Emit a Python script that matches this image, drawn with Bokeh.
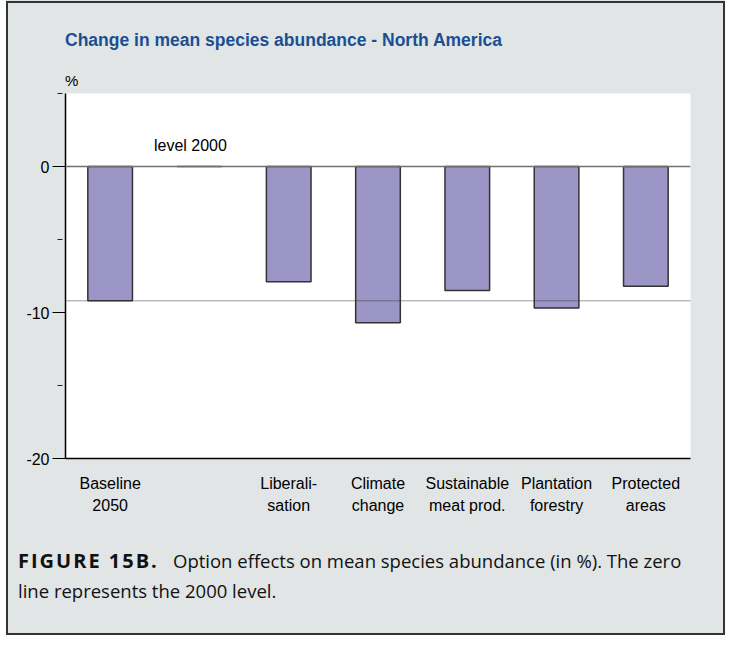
from bokeh.plotting import figure
from bokeh.layouts import column
from bokeh.models import Range1d, FixedTicker, Span, Label, Div
from bokeh.embed import file_html
from bokeh.resources import INLINE

# ---- data ----
categories = ["Baseline\n2050", "", "Liberali-\nsation", "Climate\nchange",
              "Sustainable\nmeat prod.", "Plantation\nforestry", "Protected\nareas"]
values = [-9.2, 0.0, -7.9, -10.7, -8.5, -9.7, -8.2]
y_major_ticks = [-20, -10, 0]
y_minor_ticks = [-15, -5, 5]
y_tick_labels = {-20: "-20", -10: "-10", 0: "0"}
title_text = "Change in mean species abundance - North America"
unit_text = "%"
level_text = "level 2000"
caption_bold = "FIGURE 15B."
caption_line1 = "Option effects on mean species abundance (in %). The zero"
caption_line2 = "line represents the 2000 level."

GRAY = "#e1e5e6"
SANS = "Liberation Sans"
W = 725
HEAD_H = 93
MAIN_H = 434
CAP_H = 635 - HEAD_H - MAIN_H


def span(text, left, top, css):
    return (f'<span style="position:absolute;left:{left}px;top:{top}px;'
            f'white-space:nowrap;line-height:normal;{css}">{text}</span>')


# ---- header (title and unit) ----
head_html = (
    f'<div style="position:relative;width:{W}px;height:{HEAD_H}px;">'
    + span(title_text, 65, 30,
           "font-family:'Liberation Sans';font-weight:bold;font-size:17.5px;color:#1b4f93;")
    + span(unit_text, 65, 72,
           "font-family:'Liberation Sans';font-size:15px;color:#000;")
    + '</div>'
)
head = Div(text=head_html, width=W, height=HEAD_H,
           styles={"background-color": GRAY, "margin": "0", "padding": "0"})

# ---- main chart ----
xs = [i + 0.5 for i in range(len(categories))]

p = figure(width=W, height=MAIN_H, output_backend="svg", toolbar_location=None,
           x_range=Range1d(0, len(categories)), y_range=Range1d(-20, 5),
           min_border_left=65, min_border_right=35, min_border_top=0, min_border_bottom=69)
p.background_fill_color = "white"
p.border_fill_color = GRAY
p.outline_line_color = None
p.xgrid.grid_line_color = None
p.ygrid.grid_line_color = None

p.add_layout(Span(location=0, dimension="width", line_color="#707070", line_width=1.5))
p.add_layout(Span(location=values[0], dimension="width", line_color="#333333",
                  line_width=1, line_dash="1 1"))

p.vbar(x=xs, top=[0] * len(values), bottom=values, width=0.5,
       fill_color="#9c96c7", line_color="#333333", line_width=1.5)

p.add_layout(Label(x=xs[1], y=0, x_offset=-9, y_offset=21, text=level_text,
                   text_font=SANS, text_font_size="16px", text_color="black",
                   text_align="center", text_baseline="alphabetic"))

ya = p.yaxis[0]
ya.ticker = FixedTicker(ticks=y_major_ticks, minor_ticks=y_minor_ticks)
ya.major_label_overrides = y_tick_labels
ya.axis_line_color = "black"
ya.axis_line_width = 1.5
ya.major_tick_in = 0
ya.major_tick_out = 13
ya.major_tick_line_width = 1
ya.minor_tick_in = -3
ya.minor_tick_out = 8
ya.minor_tick_line_color = "#222222"
ya.major_label_standoff = 3
ya.major_label_text_font = SANS
ya.major_label_text_font_size = "16px"
ya.major_label_text_color = "black"

xa = p.xaxis[0]
xa.ticker = FixedTicker(ticks=xs)
xa.major_label_overrides = {x: c for x, c in zip(xs, categories)}
xa.axis_line_color = "black"
xa.axis_line_width = 1.5
xa.major_tick_line_color = None
xa.major_tick_in = 0
xa.major_tick_out = 0
xa.minor_tick_line_color = None
xa.major_label_standoff = 16
xa.major_label_text_font = SANS
xa.major_label_text_font_size = "16px"
xa.major_label_text_line_height = 1.3
xa.major_label_text_color = "black"

# ---- caption ----
CAP_CSS = "font-family:'Open Sans';color:#111;"
cap_html = (
    f'<div style="position:relative;width:{W}px;height:{CAP_H}px;">'
    + span(caption_bold, 18, 20, CAP_CSS + "font-weight:bold;font-size:20px;letter-spacing:2px;")
    + span(caption_line1, 173, 21, CAP_CSS + "font-size:18.5px;")
    + span(caption_line2, 18, 51, CAP_CSS + "font-size:18.5px;")
    + '</div>'
)
cap = Div(text=cap_html, width=W, height=CAP_H,
          styles={"background-color": GRAY, "margin": "0", "padding": "0"})

BORDER_CSS = (":host { position: relative; background-color: " + GRAY + "; }\n"
              ":host::before { content: ''; position: absolute; left: 0; top: 0; "
              "bottom: 0; width: 6px; background-color: white; "
              "pointer-events: none; z-index: 999; }\n"
              ":host::after { content: ''; position: absolute; left: 6px; top: 1px; "
              "right: 0; bottom: 0; border: 2px solid #333333; box-sizing: border-box; "
              "pointer-events: none; z-index: 1000; }")

layout = column(head, p, cap, spacing=0, stylesheets=[BORDER_CSS])

open("out.html", "w").write(file_html(layout, INLINE))
